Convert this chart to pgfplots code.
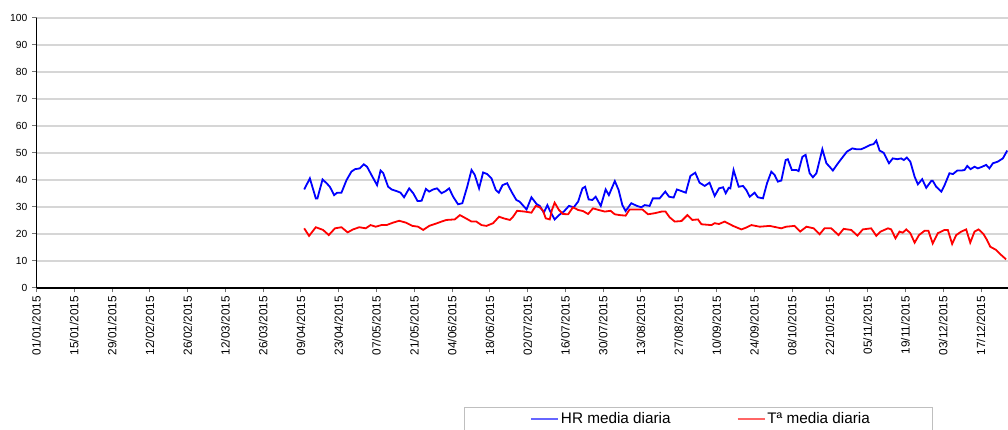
\documentclass[border=0pt]{standalone}
\usepackage{pgfplots}
\pgfplotsset{compat=1.18}
\usepackage{fontspec}
\setmainfont{Liberation Sans}
\begin{document}
\begin{tikzpicture}[x=1pt,y=1pt]
\path[use as bounding box,clip] (0,0) rectangle (1008,430);
\begin{axis}[
  scale only axis, width=971.5pt, height=270pt,
  at={(36.5pt,142pt)}, anchor=south west,
  xmin=0, xmax=360, ymin=0, ymax=100,
  axis lines*=left,
  axis line style={black, line width=1.2pt},
  ytick={0,10,...,100},
  xtick={0,14,...,350},
  xticklabels={01/01/2015,15/01/2015,29/01/2015,12/02/2015,26/02/2015,12/03/2015,26/03/2015,09/04/2015,23/04/2015,07/05/2015,21/05/2015,04/06/2015,18/06/2015,02/07/2015,16/07/2015,30/07/2015,13/08/2015,27/08/2015,10/09/2015,24/09/2015,08/10/2015,22/10/2015,05/11/2015,19/11/2015,03/12/2015,17/12/2015},
  x tick label style={rotate=90, anchor=east, font=\fontsize{11.8}{12}\selectfont, inner sep=3.5pt},
  y tick label style={font=\fontsize{10.3}{11}\selectfont, inner sep=4.5pt},
  /pgf/number format/assume math mode=true,
  tick align=outside, major tick length=4.5pt,
  tick style={black!55, line width=1pt},
  ymajorgrids, grid style={black!16, line width=1.4pt},
  legend columns=2,
  legend style={at={(0.44,-0.4407)}, anchor=north west, draw=black!25, line width=0.8pt,
    font=\fontsize{15.3}{17}\selectfont, inner xsep=61pt, inner ysep=3.5pt,
    /tikz/every even column/.append style={column sep=59pt}},
  legend image code/.code={\path (-5pt,0pt); \draw[#1, line width=1.4pt, opacity=0.6] (0pt,0pt) -- (27pt,0pt);},
]
\addplot[blue, line width=1.8pt] coordinates {
(99.2,36.5)(101.3,40.6)(103.5,33.2)(104.1,33.2)(106,40.2)(107.5,38.8)(108.7,37.5)(110.3,34.4)(111.4,35.3)(113,35.3)(114.9,40)(116.7,43.1)(118,44)(119.8,44.3)(121.3,45.8)(122.5,44.9)(124.1,41.9)(126.2,38.1)(127.5,43.5)(128.5,42.5)(130.3,37.5)(131.6,36.5)(133.4,35.9)(134.9,35.3)(136.2,33.6)(138.1,36.9)(139.6,35.1)(141.2,32.2)(142.7,32.3)(144.3,36.7)(145.5,35.7)(147,36.5)(148.4,36.9)(150.1,35.1)(151.6,35.9)(152.9,36.9)(154.4,33.8)(156.2,31)(157.8,31.4)(159.6,37.5)(161.2,43.7)(162.4,41.9)(164,36.9)(165.5,42.8)(167,42.2)(168.6,40.6)(170.2,36.3)(171.3,35.3)(172.7,38.1)(174.4,38.8)(176,35.7)(177.8,32.6)
(179,32)(181.6,29.1)(183.4,33.6)(185.3,31.1)(186.5,30.4)(188,27.9)(189.3,30.7)(190.4,28.3)(192,25.4)(193.6,27)(195.4,28.3)(197.3,30.4)(199.1,29.9)(200.7,32)(202.3,36.9)(203.3,37.5)(204.6,32.8)(206,32.6)(207.2,33.8)(209.1,30.4)(210.9,36.5)(212.1,34.4)(214.3,39.6)(215.7,36.3)(217.1,30.7)(218.3,28.5)(220.4,31.4)(222.5,30.4)(224.1,29.9)(225.4,30.7)(227.2,30.4)(228.4,33.2)(230.9,33.2)(233,35.7)(234.4,33.8)(236.1,33.5)(237.3,36.5)(239,35.9)(240.6,35.3)(242.3,41.5)(244.1,42.7)(245.7,39)(247.6,37.8)(249.4,39)(251.3,34.1)(252.9,36.9)(254.4,37.3)(255.4,35.1)(256.5,37.1)(257.1,36.9)(258.3,43.7)(260.2,37.5)(261.8,37.8)(263,36.3)(264.3,33.8)(266.1,35.3)(267.3,33.6)
(269.2,33.2)(270.7,38.8)(272.3,43.1)(273.5,41.9)(274.7,39.4)(276,39.8)(277.6,47.4)(278.4,47.7)(279.9,43.7)(281.6,43.7)(282.4,43.3)(283.8,48.6)(285,49.3)(286.5,42.5)(287.7,41)(289,42.5)(291.2,51.4)(292.7,46.2)(293.9,44.9)(295.1,43.5)(297,46.2)(298.6,48.3)(300.3,50.5)(302.3,51.7)(303.8,51.4)(305.6,51.4)(307.2,52.1)(309,53)(310.2,53.3)(311.2,54.6)(312.4,50.9)(313.9,50.1)(315.9,46.2)(317.3,48)(319,47.7)(320.4,48)(321.4,47.4)(322.5,48.3)(323.8,46.8)(325.4,41.2)(326.6,38.4)(328.2,40.3)(329.7,37.1)(331.6,39.7)(332.1,39.7)(333.4,37.5)(335.3,35.7)(336.5,38.1)(338.3,42.5)(339.6,42.2)(341.2,43.5)(342.7,43.5)(343.9,43.7)(344.9,45.2)(346.1,44)(347.6,44.9)(348.8,44.3)(350.4,44.9)(351.9,45.6)(353.1,44.3)(354.4,46.2)(356.2,46.8)(358.1,48)(359.7,50.9)
};
\addlegendentry{HR media diaria}
\addplot[red, line width=1.8pt] coordinates {
(99.2,22.1)(101,19.3)(103.5,22.5)(106.2,21.5)(108.3,19.6)(110.6,22.1)(113,22.5)(115.3,20.6)(117.3,21.7)(119.6,22.5)(122,22.1)(123.8,23.3)(125.7,22.7)(127.8,23.3)(129.7,23.3)(132.1,24.2)(134.4,24.9)(136.9,24.2)(139.3,23)(141.4,22.7)(143.3,21.5)(145.5,23)(147.6,23.7)(150.1,24.6)(151.9,25.2)(155,25.4)(156.9,27)(159.1,25.8)(161.2,24.6)(163,24.6)(164.9,23.3)(166.7,23)(169.2,24)(171.4,26.4)(173.1,25.8)(175.4,25.2)(176.6,26.4)(178.1,28.6)(180.9,28.3)
(183.4,27.9)(185,30.4)(186.5,29.9)(187.7,28.6)(188.7,25.8)(190.2,25.4)(191,28.9)(192,31.6)(193.6,28.9)(195.1,27.4)(197,27.3)(198.8,29.9)(200.7,28.9)(202.5,28.5)(204.4,27.4)(206.2,29.5)(208.3,28.9)(210.6,28.3)(212.7,28.6)(214.3,27.3)(216.1,27)(218.3,26.8)(219.8,29.1)(222.3,29.1)(224.5,29.1)(226.6,27.3)(229.1,27.7)(231.6,28.3)(233.1,28.3)(234.6,26.2)(236.5,24.6)(239,24.8)(241.2,27)(243,25.2)(245.1,25.4)(246.4,23.6)(250.1,23.3)(251.3,24)(252.9,23.7)(255,24.6)(258.1,23)(261.2,21.7)(262.8,22.3)(264.9,23.3)
(268,22.7)(271.7,23)(276,22.1)(277.8,22.7)(280.9,23)(283,20.9)(285.3,22.7)(288,22.1)(290.2,19.9)(292,22.1)(294.5,22.1)(297.2,19.6)(299.1,21.9)(301.9,21.5)(304.2,19.4)(306.2,21.7)(309.3,22.1)(311.2,19.3)(312.8,20.9)(315.5,22.1)(316.7,21.7)(318.3,18.4)(319.8,20.9)(321,20.5)(322.3,21.7)(323.8,20.3)(325.4,16.8)(327,19.6)(329.1,21.2)(330.5,21.2)(332.1,16.5)(334,20.3)(336.5,21.5)(337.7,21.5)(339.3,16.3)(340.8,19.6)(342.7,20.9)(344.5,21.7)(346,16.8)(347.6,20.9)(349.1,21.7)(350.9,20)(352.2,17.8)(353.4,15.3)(355.6,14.1)(357.5,12.2)(359.3,10.6)
};
\addlegendentry{Tª media diaria}
\end{axis}
\end{tikzpicture}
\end{document}
